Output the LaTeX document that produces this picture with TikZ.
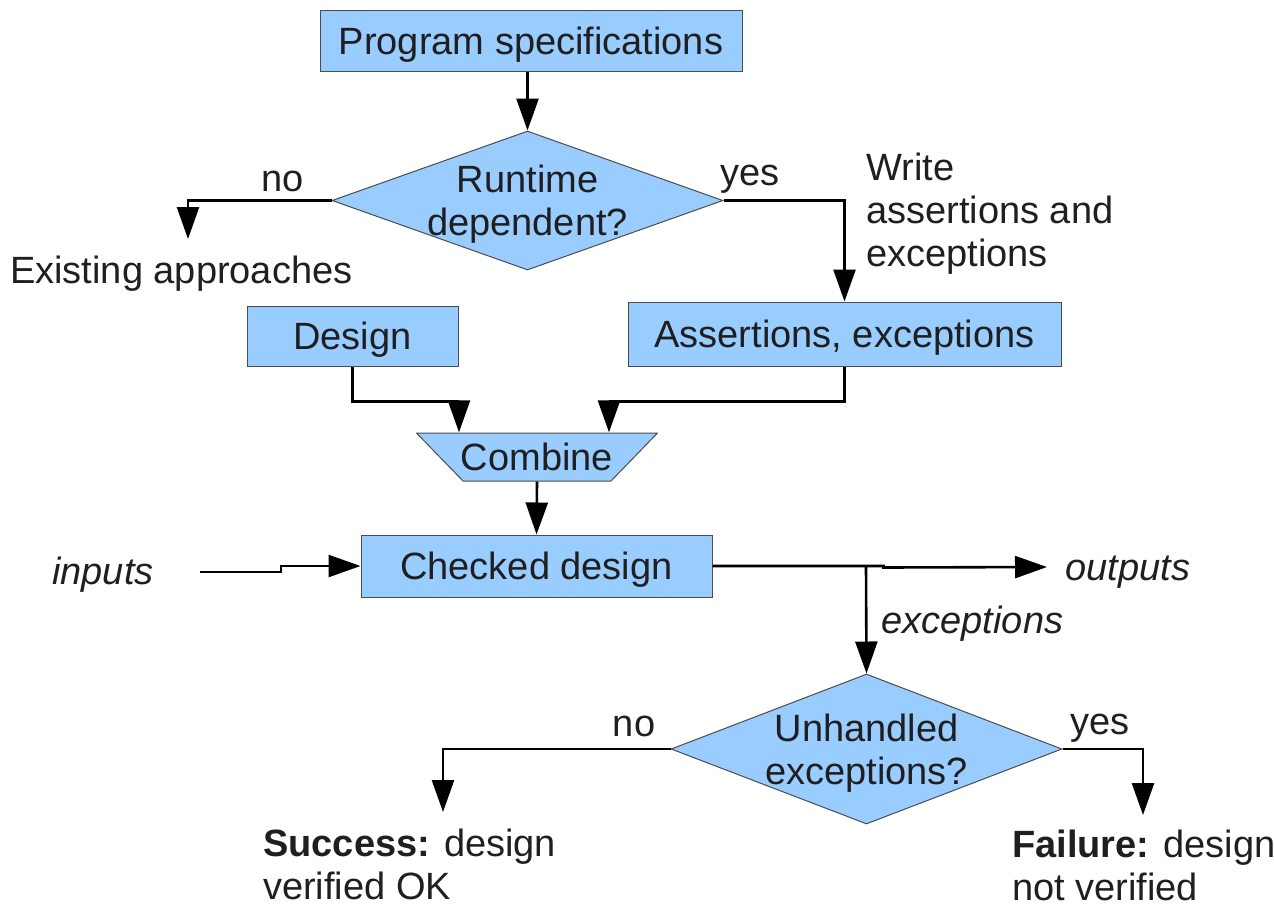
\documentclass[tikz,border=0pt]{standalone}
\usepackage{fontspec}
\setmainfont{Liberation Sans}
\usetikzlibrary{arrows.meta,shapes.geometric}
\definecolor{boxblue}{RGB}{153,204,255}

\begin{document}
\begin{tikzpicture}[x=1pt,y=-1pt,font=\fontsize{38}{43}\selectfont,text=black!88,inner sep=0pt,
  flow/.style={-{Triangle[length=32pt,width=22pt]},line width=2.6pt},
  box/.style={rectangle,draw=black!70,fill=boxblue,line width=1pt,text height=31pt,text depth=4pt},
  decision/.style={diamond,draw=black!70,fill=boxblue,line width=1pt},
  merge/.style={rectangle,minimum width=242pt,minimum height=49pt,
    path picture={\filldraw[draw=black!70,fill=boxblue,line width=1pt]
      ([shift={(0.5pt,-0.5pt)}]path picture bounding box.north west)
      -- ([shift={(-0.5pt,-0.5pt)}]path picture bounding box.north east)
      -- ([shift={(-47pt,0.5pt)}]path picture bounding box.south east)
      -- ([shift={(47pt,0.5pt)}]path picture bounding box.south west) -- cycle;}}]
  \useasboundingbox (0,0) rectangle (1274,906);
  \node[box,minimum width=422pt,minimum height=61pt]	(S)	at (531,40.5)	{Program specifications};
  \node[decision,minimum width=391pt,minimum height=139pt,
    label={[align=center,yshift=-4pt]center:Runtime\\dependent?}]	(R)	at (527.5,200.5)	{};
  \node[box,minimum width=433pt,minimum height=64pt]	(A)	at (844.5,334)	{Assertions, exceptions};
  \node[box,minimum width=211pt,minimum height=60pt]	(D)	at (352.5,336)	{Design};
  \node[merge]	(C)	at (537,457)	{Combine};
  \node[box,minimum width=351pt,minimum height=62pt]	(K)	at (536.5,566)	{Checked design};
  \node[decision,minimum width=391pt,minimum height=150pt,
    label={[align=center,yshift=-4pt]center:Unhandled\\exceptions?}]	(U)	at (866.5,749)	{};
  \node[anchor=west]	(E)	at (10,274)	{Existing approaches};
  \node[anchor=west,align=left]	(W)	at (866,214)	{Write\\assertions and\\exceptions};
  \node	(I)	at (103,575)	{\itshape inputs};
  \node	(O)	at (1128,572)	{\itshape outputs};
  \node[anchor=west,align=left]	(V)	at (263,864)	{\textbf{Success:} design\\verified OK};
  \node[anchor=west,align=left]	(F)	at (1012,865)	{\textbf{Failure:} design\\not verified};
  \coordinate	(e)	at (188,239);
  \coordinate	(i)	at (200,572);
  \coordinate	(o)	at (1047,567);
  \coordinate	(x)	at (866,567);
  \coordinate	(v)	at (443,812);
  \coordinate	(f)	at (1143,815);
  \draw[flow]	(S.south -| R.north) -- (R.north);
  \draw[flow]	(R.west) -| (e) node[pos=0.17,above=7pt] {no};
  \draw[flow]	(R.east) -| (A.north) node[pos=0.11,above=6pt] {yes};
  \draw[flow]	(D.south) -- ++(0,35) -| ([xshift=-78pt]C.north);
  \draw[flow]	(A.south) -- ++(0,35) -| ([xshift=72pt]C.north);
  \draw[flow]	(C.south) -- (K.north);
  \draw[flow]	(i) -- ++(81,0) |- (K.west);
  \draw[flow]	(K.east) -- ++(171,0) -- ++(0,1.5) -- (o);
  \draw[flow]	(x) -- (U.north) node[pos=0.53,right=14pt] {\itshape exceptions};
  \draw[flow]	(U.west) -| (v) node[pos=0.08,above=11pt] {no};
  \draw[flow]	(U.east) -| (f) node[pos=0.235,above=5pt] {yes};
\end{tikzpicture}
\end{document}
